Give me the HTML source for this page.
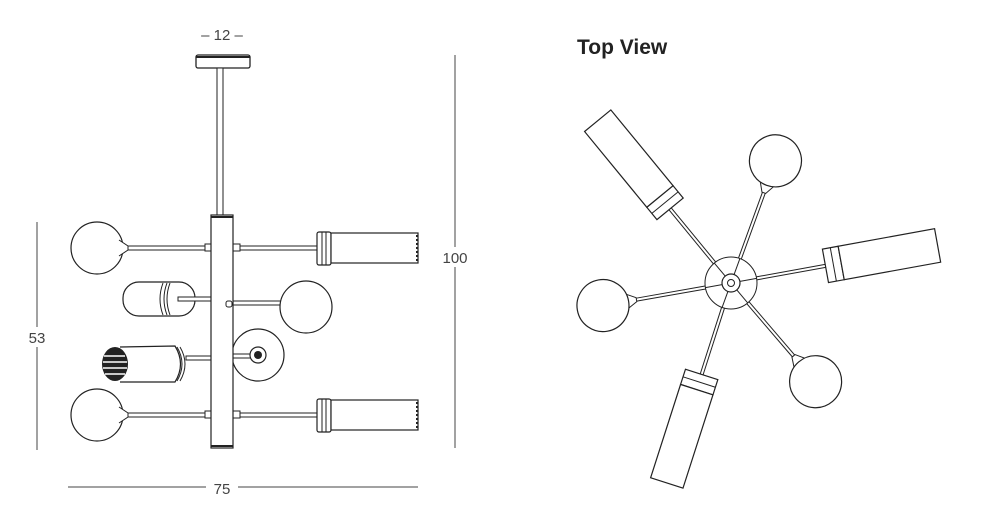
<!DOCTYPE html>
<html><head><meta charset="utf-8"><style>
html,body{margin:0;padding:0;background:#fff;width:982px;height:521px;overflow:hidden}
svg{display:block}
text{font-family:"Liberation Sans",sans-serif;fill:#444}
</style></head><body>
<svg width="982" height="521" viewBox="0 0 982 521" xmlns="http://www.w3.org/2000/svg">
<defs>
<g id="cyl"><!-- along +x from hub -->
<line x1="26" y1="-1.5" x2="98" y2="-1.5" stroke="#222" stroke-width="1"/>
<line x1="26" y1="1.5" x2="98" y2="1.5" stroke="#222" stroke-width="1"/>
<rect x="96" y="-17" width="16" height="34" fill="#fff" stroke="#222" stroke-width="1.2"/>
<line x1="104" y1="-17" x2="104" y2="17" stroke="#222"/>
<rect x="112" y="-17" width="98" height="34" fill="#fff" stroke="#222" stroke-width="1.2"/>
</g>
<g id="glb">
<line x1="26" y1="-1.5" x2="96" y2="-1.5" stroke="#222"/>
<line x1="26" y1="1.5" x2="96" y2="1.5" stroke="#222"/>
<path d="M96,-2 L105,-7 L105,7 L96,2 Z" fill="#fff" stroke="#222"/>
<circle cx="130" cy="0" r="26" fill="#fff" stroke="#222" stroke-width="1.2"/>
</g>
</defs>

<!-- Left elevation -->
<text x="222" y="40" font-size="15" text-anchor="middle">– 12 –</text>
<rect x="196" y="55" width="54" height="13" rx="2" fill="#fff" stroke="#222" stroke-width="1.3"/>
<line x1="196" y1="57" x2="250" y2="57" stroke="#222" stroke-width="2"/>
<rect x="217" y="68" width="6" height="147" fill="#fff" stroke="#222"/>

<!-- row1 -->
<circle cx="97" cy="248" r="26" fill="#fff" stroke="#222" stroke-width="1.2"/>
<path d="M119,240 L128,246 L128,250 L119,256" fill="#fff" stroke="#222"/>
<rect x="128" y="246" width="77" height="4" fill="#fff" stroke="#222"/>
<rect x="205" y="244" width="7" height="7" fill="#fff" stroke="#222"/>
<rect x="233" y="244" width="7" height="7" fill="#fff" stroke="#222"/>
<rect x="240" y="246" width="78" height="4" fill="#fff" stroke="#222"/>
<rect x="317" y="232" width="14" height="33" rx="2" fill="#fff" stroke="#222" stroke-width="1.2"/>
<line x1="322" y1="232" x2="322" y2="265" stroke="#222"/><line x1="326" y1="232" x2="326" y2="265" stroke="#222"/>
<rect x="331" y="233" width="87" height="30" fill="#fff" stroke="#222" stroke-width="1.2"/>
<line x1="417" y1="235" x2="417" y2="261" stroke="#222" stroke-width="2" stroke-dasharray="2,2"/>

<!-- row2 -->
<rect x="123" y="282" width="72" height="34" rx="16" fill="#fff" stroke="#222" stroke-width="1.2"/>
<path d="M163,283 Q157,299 163,315 M167,283 Q161,299 167,315 M170,283 Q164,299 170,315" fill="none" stroke="#222"/>
<rect x="178" y="297" width="34" height="4" fill="#fff" stroke="#222"/>
<rect x="226" y="301" width="55" height="4" fill="#fff" stroke="#222"/>
<circle cx="306" cy="307" r="26" fill="#fff" stroke="#222" stroke-width="1.2"/>

<!-- row3 -->
<path d="M120,347 L175,346 Q186,364 175,382 L120,382" fill="#fff" stroke="#222" stroke-width="1.2"/>
<path d="M177,347 Q187,364 177,381 M180,347 Q190,364 180,381" fill="none" stroke="#222"/>
<ellipse cx="115" cy="364" rx="13" ry="17" fill="#222"/>
<path d="M104,356 H125 M103,362 H127 M103,368 H127 M105,374 H125" stroke="#fff" stroke-width="1.5"/>
<rect x="186" y="356" width="30" height="4" fill="#fff" stroke="#222"/>
<circle cx="218" cy="358" r="3" fill="#fff" stroke="#222"/>
<circle cx="258" cy="355" r="26" fill="#fff" stroke="#222" stroke-width="1.2"/>
<rect x="233" y="354" width="22" height="4" fill="#fff" stroke="#222"/>
<circle cx="258" cy="355" r="8" fill="#fff" stroke="#222" stroke-width="1.2"/>
<circle cx="258" cy="355" r="4" fill="#222"/>

<!-- row4 -->
<circle cx="97" cy="415" r="26" fill="#fff" stroke="#222" stroke-width="1.2"/>
<path d="M119,407 L128,413 L128,417 L119,423" fill="#fff" stroke="#222"/>
<rect x="128" y="413" width="77" height="4" fill="#fff" stroke="#222"/>
<rect x="205" y="411" width="7" height="7" fill="#fff" stroke="#222"/>
<rect x="233" y="411" width="7" height="7" fill="#fff" stroke="#222"/>
<rect x="240" y="413" width="78" height="4" fill="#fff" stroke="#222"/>
<rect x="317" y="399" width="14" height="33" rx="2" fill="#fff" stroke="#222" stroke-width="1.2"/>
<line x1="322" y1="399" x2="322" y2="432" stroke="#222"/><line x1="326" y1="399" x2="326" y2="432" stroke="#222"/>
<rect x="331" y="400" width="87" height="30" fill="#fff" stroke="#222" stroke-width="1.2"/>
<line x1="417" y1="402" x2="417" y2="428" stroke="#222" stroke-width="2" stroke-dasharray="2,2"/>

<!-- central tube -->
<rect x="211" y="215" width="22" height="233" fill="#fff" stroke="#222" stroke-width="1.2"/>
<line x1="211" y1="217" x2="233" y2="217" stroke="#222" stroke-width="2"/>
<line x1="211" y1="446" x2="233" y2="446" stroke="#222" stroke-width="2"/>
<rect x="226" y="301" width="6" height="6" rx="2" fill="#fff" stroke="#222"/>

<!-- dimensions -->
<line x1="455" y1="55" x2="455" y2="448" stroke="#444"/>
<rect x="440" y="247" width="30" height="20" fill="#fff"/>
<text x="455" y="263" font-size="15" text-anchor="middle">100</text>
<line x1="37" y1="222" x2="37" y2="450" stroke="#444"/>
<rect x="24" y="327" width="28" height="20" fill="#fff"/>
<text x="37" y="343" font-size="15" text-anchor="middle">53</text>
<line x1="68" y1="487" x2="418" y2="487" stroke="#444"/>
<rect x="206" y="477" width="32" height="20" fill="#fff"/>
<text x="222" y="494" font-size="15" text-anchor="middle">75</text>

<!-- Top view -->
<text x="577" y="54" font-size="21" font-weight="bold" style="fill:#222">Top View</text>
<g transform="translate(731,283)">
<use href="#cyl" transform="rotate(-129.4)"/>
<use href="#cyl" transform="rotate(-10.3)"/>
<use href="#cyl" transform="rotate(107.8)"/>
<use href="#glb" transform="rotate(-70)"/>
<use href="#glb" transform="rotate(170)"/>
<use href="#glb" transform="rotate(49.4)"/>
<circle r="26" fill="none" stroke="#222" stroke-width="1"/>
<line x1="-26" y1="0" x2="26" y2="0" stroke="#222" transform="rotate(-10.3)"/>
<line x1="-26" y1="0" x2="26" y2="0" stroke="#222" transform="rotate(-70)"/>
<line x1="-26" y1="0" x2="26" y2="0" stroke="#222" transform="rotate(50)"/>
<circle r="9" fill="#fff" stroke="#222" stroke-width="1.2"/>
<circle r="3.5" fill="#fff" stroke="#222"/>
</g>
</svg>
</body></html>
